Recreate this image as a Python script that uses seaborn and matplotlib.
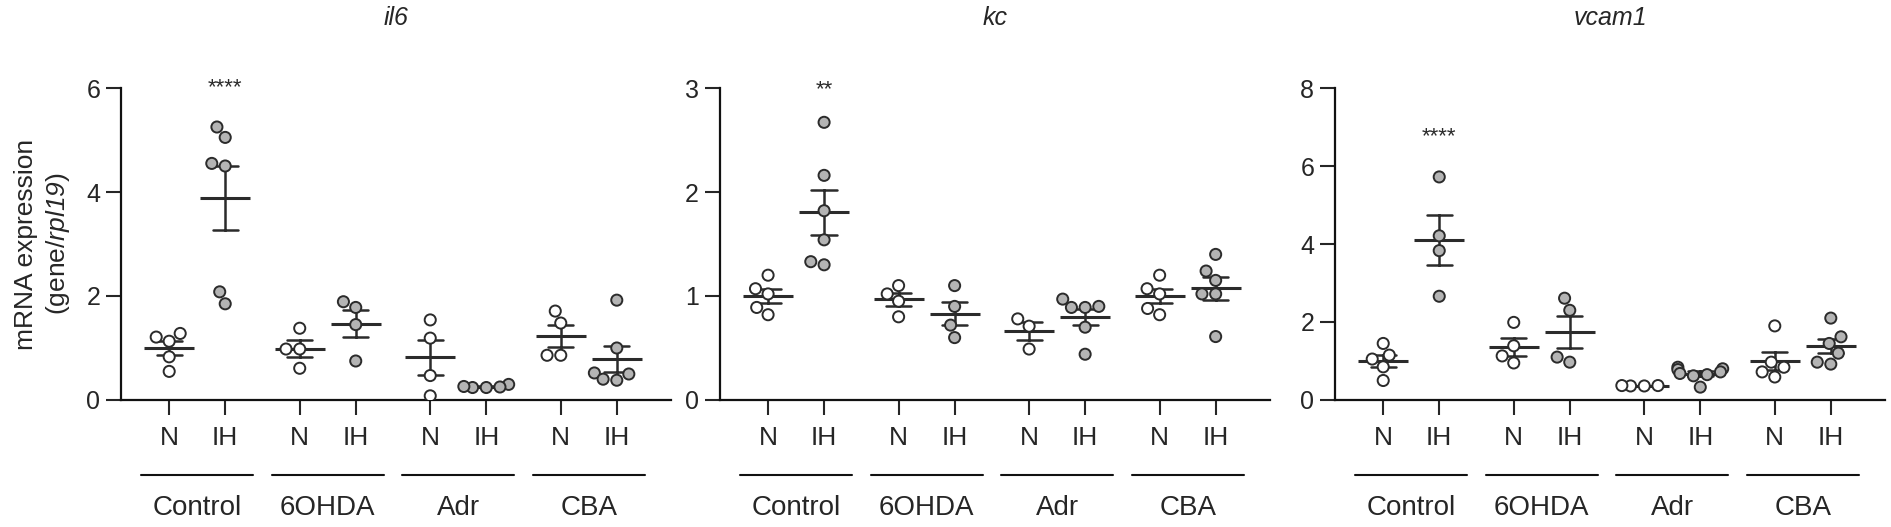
import numpy as np
import pandas as pd
import seaborn as sns
import matplotlib.pyplot as plt

groups = ['Control', '6OHDA', 'Adr', 'CBA']
conds = ['N', 'IH']
genes = ['il6', 'kc', 'vcam1']

# values per group, order: Control, 6OHDA, Adr, CBA
il6_N = [[1.13, 1.28, 1.21, 0.83, 0.55],
         [1.38, 0.98, 0.98, 0.61],
         [1.54, 1.19, 0.47, 0.08],
         [1.71, 1.48, 0.86, 0.86]]
il6_IH = [[5.25, 5.05, 4.55, 4.50, 2.08, 1.85],
          [1.78, 1.89, 1.45, 0.75],
          [0.24, 0.30, 0.25, 0.24, 0.26],
          [1.92, 1.00, 0.52, 0.40, 0.50, 0.38]]

kc_N = [[1.20, 1.07, 1.02, 0.89, 0.82],
        [1.02, 1.10, 0.95, 0.80],
        [0.78, 0.71, 0.49],
        [1.20, 1.07, 1.02, 0.88, 0.82]]
kc_IH = [[2.67, 2.16, 1.82, 1.54, 1.33, 1.30],
         [1.10, 0.90, 0.72, 0.60],
         [0.97, 0.90, 0.89, 0.89, 0.70, 0.44],
         [1.40, 1.24, 1.15, 1.02, 1.02, 0.61]]

vcam1_N = [[1.45, 1.15, 1.05, 0.85, 0.50],
           [1.99, 1.39, 1.13, 0.95],
           [0.36, 0.37, 0.36, 0.37],
           [1.90, 0.97, 0.84, 0.72, 0.59]]
vcam1_IH = [[5.72, 4.21, 3.83, 2.66],
            [2.61, 2.30, 1.10, 0.97],
            [0.84, 0.80, 0.78, 0.72, 0.68, 0.62, 0.65, 0.33],
            [2.10, 1.62, 1.45, 1.20, 0.92, 0.97]]

values = {'il6': (il6_N, il6_IH), 'kc': (kc_N, kc_IH), 'vcam1': (vcam1_N, vcam1_IH)}
ylims = {'il6': (0, 6), 'kc': (0, 3), 'vcam1': (0, 8)}
yticks = {'il6': [0, 2, 4, 6], 'kc': [0, 1, 2, 3], 'vcam1': [0, 2, 4, 6, 8]}
stars = {'il6': ('****', 6.0), 'kc': ('**', 2.98), 'vcam1': ('****', 6.75)}

GAP = 2.33
rows = []
for gene in genes:
    for ci, c in enumerate(conds):
        for gi, g in enumerate(groups):
            for v in values[gene][ci][gi]:
                rows.append({'gene': gene, 'group': g, 'cond': c,
                             'pos': gi * GAP + ci, 'val': v})
df = pd.DataFrame(rows)

sns.set_style('ticks')
plt.rcParams['font.family'] = ['Liberation Sans', 'DejaVu Sans']
# math text only used for the italic gene name in the y label
plt.rcParams['mathtext.fontset'] = 'custom'
plt.rcParams['mathtext.default'] = 'it'
plt.rcParams['mathtext.rm'] = 'Liberation Sans:italic'
plt.rcParams['mathtext.it'] = 'Liberation Sans:italic'

fig = plt.figure(figsize=(18.91, 5.27), dpi=100)
lefts = [0.0640, 0.3807, 0.7060]
ink = '#2b2b2b'

for gene, left in zip(genes, lefts):
    ax = fig.add_axes([left, 0.241, 0.2909, 0.592])
    d = df[df.gene == gene]

    sns.pointplot(data=d, x='pos', y='val', native_scale=True, errorbar='se',
                  capsize=0.45, color=ink, marker='_', markersize=36,
                  markeredgewidth=2.2, linestyle='none',
                  err_kws={'linewidth': 1.8}, ax=ax)
    sns.swarmplot(data=d, x='pos', y='val', hue='cond', native_scale=True,
                  palette={'N': 'white', 'IH': '#b4b4b4'}, size=8,
                  edgecolor=ink, linewidth=1.4, legend=False,
                  zorder=4, ax=ax)

    ticks = [gi * GAP + ci for gi in range(4) for ci in range(2)]
    ax.set_xlim(-0.86, 8.96)
    ax.set_xticks(ticks)
    ax.set_xticklabels(['N', 'IH'] * 4)
    ax.set_ylim(*ylims[gene])
    ax.set_yticks(yticks[gene])
    ax.set_xlabel('')
    ax.set_ylabel('')
    for s in ['top', 'right']:
        ax.spines[s].set_visible(False)
    for s in ['left', 'bottom']:
        ax.spines[s].set_linewidth(1.6)
        ax.spines[s].set_color('#111111')
    ax.tick_params(axis='y', length=11, width=1.5, labelsize=18, pad=4)
    ax.tick_params(axis='x', length=11, width=1.5, labelsize=19, pad=8)

    trans = ax.get_xaxis_transform()
    for gi, g in enumerate(groups):
        cx = gi * GAP + 0.5
        ax.plot([cx - 1.0, cx + 1.0], [-0.24, -0.24], transform=trans,
                clip_on=False, color='#111111', lw=1.5)
        ax.text(cx, -0.345, g, transform=trans, ha='center', va='center',
                fontsize=20)

    txt, sy = stars[gene]
    ax.text(1, sy, txt, ha='center', va='center', fontsize=16, color=ink)
    ax.text(0.5, 1.225, gene, transform=ax.transAxes, ha='center',
            va='center', fontsize=18, style='italic')

    if gene == 'il6':
        ax.set_ylabel('mRNA expression\n(gene/$rpl19$)',
                      fontsize=19, labelpad=10, linespacing=1.3)

fig.savefig('out.png', dpi=100)
